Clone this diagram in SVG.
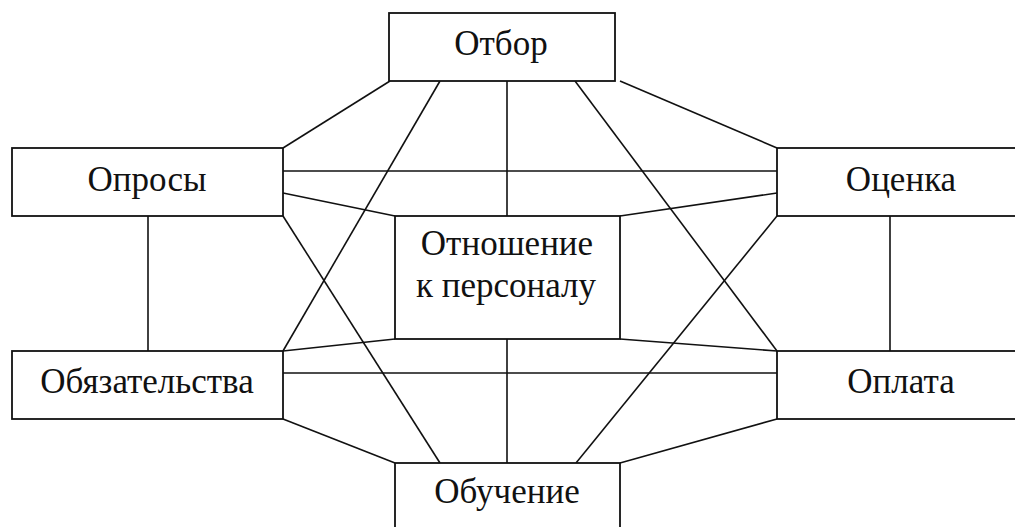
<svg xmlns="http://www.w3.org/2000/svg" width="1015" height="527" viewBox="0 0 1015 527">
<style>
.box{fill:#fff;stroke:#111;stroke-width:1.8}
.lbl{font-family:"Liberation Serif","Times New Roman",serif;font-size:35px;fill:#111;text-anchor:middle}
.conn line{stroke:#111;stroke-width:1.6}
</style>
<rect width="1015" height="527" fill="#fff"/>
<g class="conn" id="connectors">
<line x1="390" y1="81" x2="283" y2="148"/>
<line x1="440" y1="81" x2="283" y2="351"/>
<line x1="507" y1="81" x2="507" y2="216"/>
<line x1="575" y1="81" x2="777" y2="351"/>
<line x1="620" y1="81" x2="777" y2="148"/>
<line x1="283" y1="171" x2="777" y2="171"/>
<line x1="283" y1="193" x2="395" y2="216"/>
<line x1="777" y1="193" x2="620" y2="216"/>
<line x1="283" y1="216" x2="440" y2="463"/>
<line x1="777" y1="216" x2="576" y2="463"/>
<line x1="148" y1="216" x2="148" y2="351"/>
<line x1="890" y1="216" x2="890" y2="351"/>
<line x1="395" y1="339" x2="283" y2="351"/>
<line x1="620" y1="339" x2="777" y2="351"/>
<line x1="283" y1="373" x2="777" y2="373"/>
<line x1="507" y1="339" x2="507" y2="463"/>
<line x1="283" y1="419" x2="395" y2="463"/>
<line x1="777" y1="419" x2="620" y2="463"/>
</g>
<g id="otbor"><rect class="box" x="389" y="13" width="226" height="68"/><text class="lbl" x="501" y="55">Отбор</text></g>
<g id="oprosy"><rect class="box" x="12" y="148" width="271" height="68"/><text class="lbl" x="147" y="191">Опросы</text></g>
<g id="ocenka"><rect class="box" x="777" y="148" width="250" height="68"/><text class="lbl" x="901" y="191">Оценка</text></g>
<g id="otnoshenie"><rect class="box" x="395" y="216" width="225" height="123"/><text class="lbl" x="507" y="255">Отношение</text><text class="lbl" x="506" y="297">к персоналу</text></g>
<g id="obyazatelstva"><rect class="box" x="12" y="351" width="271" height="68"/><text class="lbl" x="147" y="393">Обязательства</text></g>
<g id="oplata"><rect class="box" x="777" y="351" width="250" height="68"/><text class="lbl" x="901" y="393">Оплата</text></g>
<g id="obuchenie"><rect class="box" x="395" y="463" width="225" height="80"/><text class="lbl" x="507" y="503">Обучение</text></g>
</svg>
